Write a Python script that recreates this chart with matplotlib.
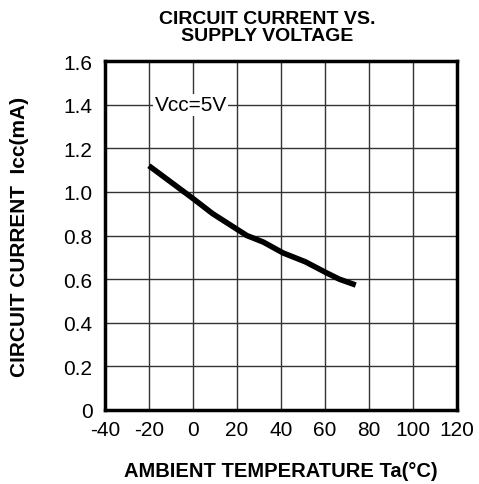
import numpy as np
import matplotlib.pyplot as plt

plt.rcParams['font.family'] = ['Liberation Sans', 'DejaVu Sans']
plt.rcParams['axes.unicode_minus'] = False

# curve
temp = [-20, 0, 9, 24.5, 32, 41, 51, 60.5, 66.5, 74]
icc = [1.12, 0.97, 0.90, 0.80, 0.77, 0.72, 0.68, 0.63, 0.60, 0.573]

x_ticks = [-40, -20, 0, 20, 40, 60, 80, 100, 120]
y_ticks = [0, 0.2, 0.4, 0.6, 0.8, 1.0, 1.2, 1.4, 1.6]
y_labels = ['0', '0.2', '0.4', '0.6', '0.8', '1.0', '1.2', '1.4', '1.6']

fig = plt.figure(figsize=(4.79, 4.85), dpi=100)
ax = fig.add_axes([0.219, 0.1526, 0.735, 0.7194])

ax.plot(temp, icc, color='black', linewidth=4, solid_capstyle='butt')

ax.set_xlim(-40, 120)
ax.set_ylim(0, 1.6)
ax.set_xticks(x_ticks)
ax.set_yticks(y_ticks)
ax.set_yticklabels(y_labels)
ax.tick_params(length=0, labelsize=15)
ax.tick_params(axis='y', pad=9)
ax.tick_params(axis='x', pad=7)
ax.grid(True, color='#333333', linewidth=1)
ax.set_axisbelow(True)
for s in ax.spines.values():
    s.set_linewidth(2.5)

ax.text(-1, 1.4, 'Vcc=5V', fontsize=15, ha='center', va='center',
        bbox=dict(facecolor='white', edgecolor='none', pad=1))

ax.set_xlabel('AMBIENT TEMPERATURE Ta(°C)', fontsize=14.5, fontweight='bold', labelpad=16)
ax.set_ylabel('CIRCUIT CURRENT  Icc(mA)', fontsize=15, fontweight='bold', labelpad=25)
fig.text(0.557, 0.943, 'CIRCUIT CURRENT VS.\nSUPPLY VOLTAGE', fontsize=14, fontweight='bold',
         ha='center', va='center', linespacing=1.0)

fig.savefig('out.png', dpi=100)
